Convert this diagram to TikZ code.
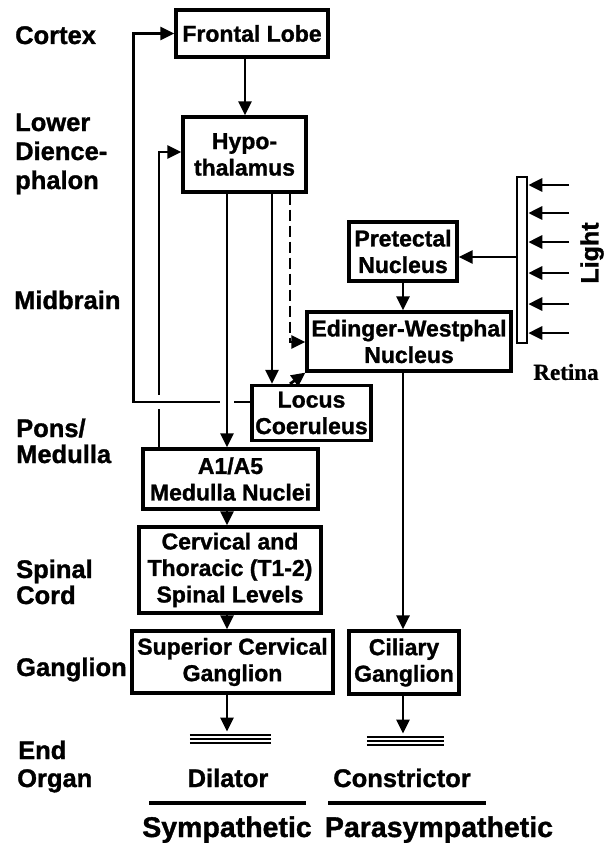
\documentclass[tikz,border=0pt]{standalone}
\usepackage{fontspec}
\setmainfont{Liberation Sans}[BoldFeatures={FakeBold=1.2}]
\newfontfamily\retfont{Liberation Serif}[BoldFeatures={FakeBold=0.8}]
\usetikzlibrary{arrows.meta,calc}
\begin{document}
\begin{tikzpicture}[x=1pt,y=-1pt,
  box/.style={draw, line width=3.2pt, inner sep=0pt, align=center, font=\bfseries\fontsize{23}{26.5}\selectfont},
  lab/.style={anchor=base west, inner sep=0pt, font=\bfseries\fontsize{25.5}{27}\selectfont},
  endlab/.style={anchor=base, inner sep=0pt, font=\bfseries\fontsize{25.5}{27}\selectfont},
  sidelab/.style={anchor=base, inner sep=0pt, font=\bfseries\fontsize{28.5}{30}\selectfont},
  arr/.style={line width=2.8pt, -{Triangle[length=14pt,width=13pt]}},
  dsh/.style={dash pattern=on 11pt off 5pt},
  bars/.style={inner sep=0pt, outer sep=0pt, minimum height=11},
  barline/.style={line width=2.6pt},
  rule/.style={line width=4.5pt}]
\useasboundingbox (0,0) rectangle (606,843);
\fill[white] (0,0) rectangle (606,843);

% level labels
\node[lab] (l1)  at (15,44)  {Cortex};
\node[lab] (l2a) at (15,131) {Lower};
\node[lab] (l2b) at (15,160) {Dience-};
\node[lab] (l2c) at (15,189) {phalon};
\node[lab] (l3)  at (14,309) {Midbrain};
\node[lab] (l4a) at (16,437) {Pons/};
\node[lab] (l4b) at (16,463) {Medulla};
\node[lab] (l5a) at (16,578) {Spinal};
\node[lab] (l5b) at (16,604) {Cord};
\node[lab] (l6)  at (16,676) {Ganglion};
\node[lab] (l7a) at (18,759) {End};
\node[lab] (l7b) at (17,787) {Organ};

% boxes
\node[box, minimum width=152, minimum height=47] (FL)  at (252,33.5)  {Frontal Lobe};
\node[box, minimum width=123, minimum height=75] (Hypo) at (244.5,154.5) {Hypo-\\thalamus};
\node[box, minimum width=108, minimum height=59] (PN)  at (403,251.5)  {Pretectal\\Nucleus};
\node[box, minimum width=204, minimum height=59] (EW)  at (409,341.5)  {Edinger-Westphal\\Nucleus};
\node[box, minimum width=119, minimum height=55] (LC)  at (311.5,413)  {Locus\\Coeruleus};
\node[box, minimum width=175, minimum height=60] (A1)  at (230.5,479)  {A1/A5\\Medulla Nuclei};
\node[box, minimum width=182, minimum height=86] (CT)  at (230,570)    {Cervical and\\Thoracic (T1-2)\\Spinal Levels};
\node[box, minimum width=201, minimum height=62] (SCG) at (232.5,662)  {Superior Cervical\\Ganglion};
\node[box, minimum width=110, minimum height=63] (Cil) at (404,662.5)  {Ciliary\\Ganglion};

% retina
\node[draw, line width=2.6pt, fill=white, minimum width=10, minimum height=166, inner sep=0pt] (Ret) at (522,260) {};
\node[inner sep=0pt, font=\retfont\bfseries\fontsize{23}{25}\selectfont] (RetL) at (566,372) {Retina};
\node[inner sep=0pt, rotate=90, font=\bfseries\fontsize{25}{27}\selectfont] (LightL) at (592,253) {Light};
\foreach \yy [count=\i] in {185,213,242,273,304,333} {
  \coordinate (lt\i) at (569,\yy);
  \draw[arr] (lt\i) -- (lt\i -| Ret.east);
}
\coordinate (rp) at (517,257);
\draw[arr] (rp -| Ret.west) -- (rp -| PN.east);

% helper x positions
\coordinate (cA) at (227,0);
\coordinate (cB) at (272,0);
\coordinate (cD) at (290,342);
\coordinate (cE) at (403,0);
\coordinate (c2) at (159,152);
\coordinate (x1) at (159,402);
\coordinate (x2) at (227,402);

% end organ bars
\node[bars, minimum width=81] (dilbar) at (230.3,739) {};
\node[bars, minimum width=77] (conbar) at (405.3,741) {};
\foreach \d in {-4,0,4} {
  \draw[barline] ([yshift=\d pt]dilbar.west) -- ([yshift=\d pt]dilbar.east);
  \draw[barline] ([yshift=\d pt]conbar.west) -- ([yshift=\d pt]conbar.east);
}

% connectors
\draw[arr] (FL.south -| cA) ++(18,0) coordinate (fs) -- (fs |- Hypo.north);
\draw[arr] (A1.north -| c2) -- (c2) -- (c2 -| Hypo.west);
\fill[white] ($(x1)+(-6,-7)$) rectangle ($(x1)+(6,7)$);
\draw[arr] ([yshift=11pt]LC.west) -- ++(-117,0) |- (FL.west);
\fill[white] ($(x2)+(-7,-3)$) rectangle ($(x2)+(7,3)$);
\draw[arr] (Hypo.south -| cA) -- (A1.north -| cA);
\draw[arr] (Hypo.south -| cB) -- (LC.north -| cB);
\draw[arr, dsh] (Hypo.south -| cD) -- (cD) -- (cD -| EW.west);
\draw[arr, dsh] (LC.north -| cD) -- (EW.south west);
\draw[arr] (PN.south) -- (EW.north -| PN.south);
\draw[arr] (EW.south -| cE) -- (Cil.north -| cE);
\draw[arr] (A1.south -| cA) -- (CT.north -| cA);
\draw[arr] (CT.south -| cA) -- (SCG.north -| cA);
\draw[arr, shorten >=2pt] (SCG.south -| cA) -- (dilbar.north -| cA);
\draw[arr, shorten >=2pt] (Cil.south -| cE) -- (conbar.north -| cE);

% end organ labels
\node[endlab] (dil) at (228,787) {Dilator};
\node[endlab] (con) at (402,787) {Constrictor};
\coordinate (u1a) at (149,803); \coordinate (u1b) at (306,803);
\coordinate (u2a) at (328,803); \coordinate (u2b) at (486,803);
\draw[rule] (u1a) -- (u1b);
\draw[rule] (u2a) -- (u2b);
\node[sidelab] (sym) at (227,837) {Sympathetic};
\node[sidelab] (par) at (439,837) {Parasympathetic};
\end{tikzpicture}
\end{document}
